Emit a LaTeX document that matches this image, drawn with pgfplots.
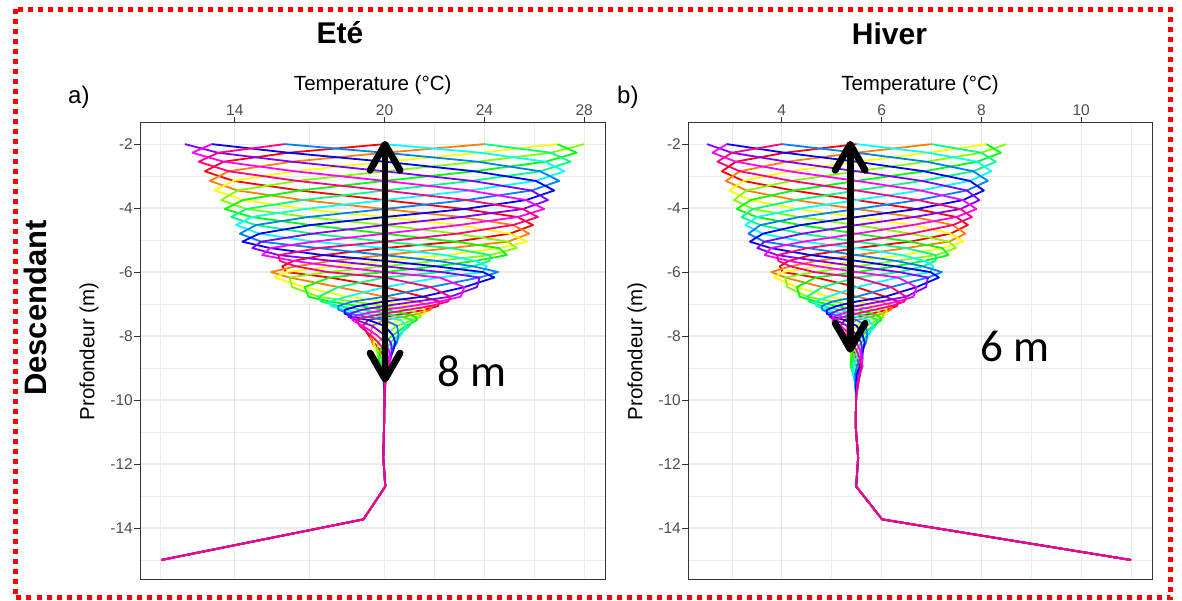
\documentclass[border=0pt]{standalone}
\usepackage{fontspec}
\setmainfont{Liberation Sans}
\newfontfamily\calib{Carlito}
\usepackage{pgfplots}
\usepackage{pgfplotstable}
\pgfplotsset{compat=1.18}
\usetikzlibrary{arrows.meta}

% rainbow(12)
\definecolor{c0}{HTML}{FF0000}
\definecolor{c1}{HTML}{FF8000}
\definecolor{c2}{HTML}{FFFF00}
\definecolor{c3}{HTML}{80FF00}
\definecolor{c4}{HTML}{00FF00}
\definecolor{c5}{HTML}{00FF80}
\definecolor{c6}{HTML}{00FFFF}
\definecolor{c7}{HTML}{0080FF}
\definecolor{c8}{HTML}{0000FF}
\definecolor{c9}{HTML}{8000FF}
\definecolor{c10}{HTML}{FF00FF}
\definecolor{c11}{HTML}{FF0080}
\definecolor{gridc}{HTML}{EBEBEB}
\definecolor{framec}{HTML}{333333}
\definecolor{tickc}{HTML}{4D4D4D}

% summer profiles: depth, then one column per profile
\pgfplotstableread{
d p0 p1 p2 p3 p4 p5 p6 p7 p8 p9 p10 p11
-2.00 20 24 26.93 28 26.93 24 20 16 13.07 12 13.07 16
-2.27 16.15 20 23.85 26.67 27.7 26.67 23.85 20 16.15 13.33 12.3 13.33
-2.55 13.55 16.28 20 23.73 26.45 27.45 26.45 23.73 20 16.28 13.55 12.55
-2.85 12.8 13.76 16.4 20 23.6 26.24 27.2 26.24 23.6 20 16.4 13.76
-3.15 13.94 13 13.94 16.5 20 23.5 26.06 27 26.06 23.5 20 16.5
-3.45 16.6 14.11 13.2 14.11 16.6 20 23.4 25.89 26.8 25.89 23.4 20
-3.75 20 16.73 14.33 13.45 14.33 16.73 20 23.28 25.67 26.55 25.67 23.28
-4.03 23.2 20 16.8 14.46 13.6 14.46 16.8 20 23.2 25.54 26.4 25.54
-4.28 25.33 23.08 20 16.93 14.67 13.85 14.67 16.93 20 23.08 25.33 26.15
-4.53 25.95 25.15 22.98 20 17.03 14.85 14.05 14.85 17.03 20 22.98 25.15
-4.80 25.02 25.8 25.02 22.9 20 17.1 14.98 14.2 14.98 17.1 20 22.9
-5.05 22.85 24.94 25.7 24.94 22.85 20 17.15 15.06 14.3 15.06 17.15 20
-5.25 20 22.65 24.59 25.3 24.59 22.65 20 17.35 15.41 14.7 15.41 17.35
-5.47 17.55 20 22.45 24.24 24.9 24.24 22.45 20 17.55 15.76 15.1 15.76
-5.65 16.36 17.9 20 22.1 23.64 24.2 23.64 22.1 20 17.9 16.36 15.8
-5.82 15.9 16.45 17.95 20 22.05 23.55 24.1 23.55 22.05 20 17.95 16.45
-6.00 16.06 15.45 16.06 17.73 20 22.28 23.94 24.55 23.94 22.28 20 17.73
-6.17 17.8 16.19 15.6 16.19 17.8 20 22.2 23.81 24.4 23.81 22.2 20
-6.47 20 18.15 16.8 16.3 16.8 18.15 20 21.85 23.2 23.7 23.2 21.85
-6.77 21.53 20 18.48 17.36 16.95 17.36 18.48 20 21.53 22.64 23.05 22.64
-6.92 22.21 21.28 20 18.73 17.79 17.45 17.79 18.73 20 21.28 22.21 22.55
-7.06 22.15 21.86 21.08 20 18.93 18.14 17.85 18.14 18.93 20 21.08 21.86
-7.18 21.6 21.85 21.6 20.93 20 19.08 18.4 18.15 18.4 19.08 20 20.93
-7.30 20.8 21.39 21.6 21.39 20.8 20 19.2 18.61 18.4 18.61 19.2 20
-7.40 20 20.73 21.26 21.45 21.26 20.73 20 19.28 18.74 18.55 18.74 19.28
-7.50 19.35 20 20.65 21.13 21.3 21.13 20.65 20 19.35 18.87 18.7 18.87
-7.68 19.13 19.5 20 20.5 20.87 21 20.87 20.5 20 19.5 19.13 19
-7.97 19.35 19.44 19.68 20 20.33 20.56 20.65 20.56 20.33 20 19.68 19.44
-8.20 19.57 19.5 19.57 19.75 20 20.25 20.43 20.5 20.43 20.25 20 19.75
-8.45 19.83 19.7 19.65 19.7 19.83 20 20.18 20.3 20.35 20.3 20.18 20
-8.70 20 19.88 19.78 19.75 19.78 19.88 20 20.13 20.22 20.25 20.22 20.13
-8.95 20.08 20 19.93 19.87 19.85 19.87 19.93 20 20.08 20.13 20.15 20.13
-9.20 20.07 20.04 20 19.96 19.93 19.92 19.93 19.96 20 20.04 20.07 20.08
-9.50 20.03 20.03 20.02 20 19.99 19.97 19.97 19.97 19.99 20 20.02 20.03
-9.90 20 20 20 20 20 20 20 20 20 20 20 20
-10.80 19.98 19.98 19.98 19.98 19.98 19.98 19.98 19.98 19.98 19.98 19.98 19.98
-11.80 19.95 19.95 19.95 19.95 19.95 19.95 19.95 19.95 19.95 19.95 19.95 19.95
-12.70 20.03 20.03 20.03 20.03 20.03 20.03 20.03 20.03 20.03 20.03 20.03 20.03
-13.73 19.15 19.15 19.15 19.15 19.15 19.15 19.15 19.15 19.15 19.15 19.15 19.15
-15.00 11.05 11.05 11.05 11.05 11.05 11.05 11.05 11.05 11.05 11.05 11.05 11.05
}\summer

% winter profiles
\pgfplotstableread{
d p0 p1 p2 p3 p4 p5 p6 p7 p8 p9 p10 p11
-2.00 5.5 7.0 8.1 8.5 8.1 7.0 5.5 4.0 2.9 2.5 2.9 4.0
-2.27 4.06 5.5 6.94 8.0 8.39 8.0 6.94 5.5 4.06 3.0 2.61 3.0
-2.55 3.08 4.1 5.5 6.9 7.92 8.29 7.92 6.9 5.5 4.1 3.08 2.71
-2.85 2.8 3.16 4.15 5.5 6.85 7.84 8.2 7.84 6.85 5.5 4.15 3.16
-3.15 3.23 2.88 3.23 4.19 5.5 6.81 7.77 8.13 7.77 6.81 5.5 4.19
-3.45 4.23 3.29 2.95 3.29 4.23 5.5 6.78 7.71 8.05 7.71 6.78 5.5
-3.75 5.5 4.27 3.37 3.04 3.37 4.27 5.5 6.73 7.63 7.96 7.63 6.73
-4.03 6.7 5.5 4.3 3.42 3.1 3.42 4.3 5.5 6.7 7.58 7.9 7.58
-4.28 7.5 6.65 5.5 4.35 3.5 3.19 3.5 4.35 5.5 6.65 7.5 7.81
-4.53 7.73 7.43 6.62 5.5 4.38 3.57 3.27 3.57 4.38 5.5 6.62 7.43
-4.80 7.38 7.68 7.38 6.59 5.5 4.41 3.62 3.33 3.62 4.41 5.5 6.59
-5.05 6.57 7.35 7.64 7.35 6.57 5.5 4.43 3.65 3.36 3.65 4.43 5.5
-5.25 5.5 6.49 7.22 7.49 7.22 6.49 5.5 4.51 3.78 3.51 3.78 4.51
-5.47 4.58 5.5 6.42 7.09 7.34 7.09 6.42 5.5 4.58 3.91 3.66 3.91
-5.65 4.14 4.71 5.5 6.29 6.86 7.08 6.86 6.29 5.5 4.71 4.14 3.93
-5.82 3.96 4.17 4.73 5.5 6.27 6.83 7.04 6.83 6.27 5.5 4.73 4.17
-6.00 4.02 3.79 4.02 4.65 5.5 6.35 6.98 7.21 6.98 6.35 5.5 4.65
-6.17 4.68 4.07 3.85 4.07 4.68 5.5 6.33 6.93 7.15 6.93 6.33 5.5
-6.47 5.5 4.81 4.3 4.11 4.3 4.81 5.5 6.19 6.7 6.89 6.7 6.19
-6.77 6.07 5.5 4.93 4.51 4.36 4.51 4.93 5.5 6.07 6.49 6.64 6.49
-6.92 6.33 5.98 5.5 5.02 4.67 4.54 4.67 5.02 5.5 5.98 6.33 6.46
-7.06 6.31 6.2 5.9 5.5 5.1 4.8 4.69 4.8 5.1 5.5 5.9 6.2
-7.18 6.1 6.19 6.1 5.85 5.5 5.15 4.9 4.81 4.9 5.15 5.5 5.85
-7.30 5.8 6.02 6.1 6.02 5.8 5.5 5.2 4.98 4.9 4.98 5.2 5.5
-7.40 5.5 5.77 5.97 6.04 5.97 5.77 5.5 5.23 5.03 4.96 5.03 5.23
-7.50 5.26 5.5 5.74 5.92 5.99 5.92 5.74 5.5 5.26 5.08 5.01 5.08
-7.68 5.18 5.31 5.5 5.69 5.83 5.88 5.83 5.69 5.5 5.31 5.18 5.13
-7.97 5.26 5.29 5.38 5.5 5.62 5.71 5.74 5.71 5.62 5.5 5.38 5.29
-8.20 5.34 5.31 5.34 5.41 5.5 5.59 5.66 5.69 5.66 5.59 5.5 5.41
-8.45 5.43 5.39 5.37 5.39 5.43 5.5 5.57 5.61 5.63 5.61 5.57 5.5
-8.70 5.5 5.44 5.4 5.38 5.4 5.44 5.5 5.56 5.6 5.62 5.6 5.56
-8.95 5.56 5.5 5.44 5.4 5.38 5.4 5.44 5.5 5.56 5.6 5.62 5.6
-9.20 5.56 5.54 5.5 5.47 5.44 5.43 5.44 5.47 5.5 5.54 5.56 5.57
-9.50 5.53 5.53 5.52 5.5 5.49 5.47 5.47 5.47 5.49 5.5 5.52 5.53
-9.90 5.49 5.49 5.49 5.49 5.49 5.49 5.49 5.49 5.49 5.49 5.49 5.49
-10.80 5.48 5.48 5.48 5.48 5.48 5.48 5.48 5.48 5.48 5.48 5.48 5.48
-11.80 5.53 5.53 5.53 5.53 5.53 5.53 5.53 5.53 5.53 5.53 5.53 5.53
-12.70 5.49 5.49 5.49 5.49 5.49 5.49 5.49 5.49 5.49 5.49 5.49 5.49
-13.73 6.01 6.01 6.01 6.01 6.01 6.01 6.01 6.01 6.01 6.01 6.01 6.01
-15.00 11.0 11.0 11.0 11.0 11.0 11.0 11.0 11.0 11.0 11.0 11.0 11.0
}\winter

\pgfplotsset{
  panel/.style={
    scale only axis, height=457pt,
    ymin=-15.625, ymax=-1.34,
    axis line style={draw=framec, line width=1pt},
    tick style={draw=framec, line width=1pt},
    tick align=outside, major tick length=6pt, minor tick length=0pt,
    xtick pos=right, xticklabel pos=right, ytick pos=left,
    grid=both,
    major grid style={draw=gridc, line width=1.2pt},
    minor grid style={draw=gridc, line width=0.6pt},
    tick label style={font=\fontsize{15.5}{18}\selectfont, text=tickc},
    yticklabel style={inner sep=1pt},
    xticklabel style={inner sep=1pt},
    ytick={-14,-12,-10,-8,-6,-4,-2},
    yticklabels={-14,-12,-10,-8,-6,-4,-2},
    minor ytick={-15,-13,-11,-9,-7,-5,-3},
    every axis plot/.append style={line width=1.8pt, line join=round, no marks},
  },
}
\tikzset{dbl/.style={line width=6.8pt, line cap=round,
  {Straight Barb[length=26pt,width=30pt,round]}-{Straight Barb[length=26pt,width=30pt,round]}}}

\begin{document}
\begin{tikzpicture}
\useasboundingbox (0,0) rectangle (1182pt,601pt);

\begin{axis}[panel, at={(140pt,21pt)}, anchor=south west, width=465.4pt,
  xmin=10.2, xmax=28.85,
  xtick={14,20,24,28}, xticklabels={14,20,24,28},
  minor xtick={11,17,22,26}]
\pgfplotsinvokeforeach{0,...,11}{\addplot[color=c#1] table[x=p#1,y=d]{\summer};}
\draw[dbl] (axis cs:20.02,-1.9) -- (axis cs:20.02,-9.45);
\end{axis}

\begin{axis}[panel, at={(688pt,21pt)}, anchor=south west, width=464pt,
  xmin=2.12, xmax=11.42,
  xtick={4,6,8,10}, xticklabels={4,6,8,10},
  minor xtick={3,5,7,9,11}]
\pgfplotsinvokeforeach{0,...,11}{\addplot[color=c#1] table[x=p#1,y=d]{\winter};}
\draw[dbl] (axis cs:5.37,-1.9) -- (axis cs:5.37,-8.52);
\end{axis}

% titles and labels
\node[anchor=base, font=\fontsize{30}{34}\selectfont\bfseries] at (340pt,557.5pt) {Eté};
\node[anchor=base, font=\fontsize{30}{34}\selectfont\bfseries] at (889.5pt,556.5pt) {Hiver};
\node[anchor=base, font=\fontsize{20.5}{24}\selectfont] at (372.7pt,510.5pt) {Temperature (°C)};
\node[anchor=base, font=\fontsize{20.5}{24}\selectfont] at (920pt,510.5pt) {Temperature (°C)};
\node[anchor=base west, inner sep=0pt, font=\fontsize{24}{28}\selectfont] at (68pt,497pt) {a)};
\node[anchor=base west, inner sep=0pt, font=\fontsize{24}{28}\selectfont] at (617pt,497pt) {b)};
\node[rotate=90, font=\fontsize{20.5}{24}\selectfont] at (89pt,249.5pt) {Profondeur (m)};
\node[rotate=90, font=\fontsize{20.5}{24}\selectfont] at (637pt,249.5pt) {Profondeur (m)};
\node[rotate=90, font=\fontsize{31}{36}\selectfont\bfseries] at (35pt,293pt) {Descendant};
\node[anchor=base west, inner sep=0pt, font=\fontsize{45}{50}\selectfont\calib] at (437.7pt,214.3pt) {8 m};
\node[anchor=base west, inner sep=0pt, font=\fontsize{45}{50}\selectfont\calib] at (980pt,239.3pt) {6 m};

% red dotted frame
\draw[draw=red, line width=5pt, dash pattern=on 5pt off 5pt] (15pt,591.5pt) rectangle (1170.5pt,3pt);
\end{tikzpicture}
\end{document}
